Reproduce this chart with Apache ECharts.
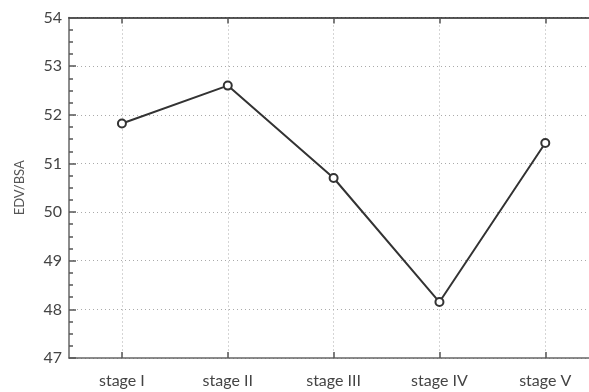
<!DOCTYPE html>
<html>
<head>
<meta charset="utf-8">
<script src="https://cdn.jsdelivr.net/npm/echarts@6/dist/echarts.min.js"></script>
<style>
  html, body { margin: 0; padding: 0; background: #fff; }
  #chart { width: 589px; height: 392px; }
</style>
</head>
<body>
<div id="chart"></div>
<script>
var stages = ["stage I", "stage II", "stage III", "stage IV", "stage V"];
var edvBsa = [51.82, 52.60, 50.70, 48.15, 51.42];
var stagePos = [1, 2, 3, 4, 5];

var fontName = "Lato";
var labelColor = "#444";
var gridLine = { show: true, lineStyle: { color: "#aaa", type: [1, 3], width: 1 } };

// 点データ (x = ステージ番号)
var points = stagePos.map(function(p, i) { return [p, edvBsa[i]]; });

// 右側は画面外で切れているので、見える範囲だけを軸にする
var xMin = 0.5, xMax = 5.413;

var chart = echarts.init(document.getElementById("chart"));
chart.setOption({
    animation: false,
    grid: { left: 69, top: 17.5, right: 0, height: 340.5 },
    xAxis: [{
        type: "value",
        min: xMin,
        max: xMax,
        axisLine: { show: true, lineStyle: { color: "#666", width: 1.5 } },
        axisTick: { show: true, inside: true, length: 6, customValues: stagePos,
                    lineStyle: { color: "#555", width: 1.5 } },
        axisLabel: {
            customValues: stagePos,
            margin: 15,
            fontFamily: fontName,
            fontSize: 16,
            color: labelColor,
            formatter: function(v) { return stages[Math.round(v) - 1] || ""; }
        },
        splitLine: gridLine
    }, {
        type: "value",
        position: "top",
        min: xMin,
        max: xMax,
        axisLine: { show: true, onZero: false, lineStyle: { color: "#222", width: 1.5 } },
        axisTick: { show: true, inside: true, length: 6, customValues: stagePos,
                    lineStyle: { color: "#555", width: 1.5 } },
        axisLabel: { show: false },
        splitLine: { show: false }
    }],
    yAxis: {
        type: "value",
        min: 47,
        max: 54,
        interval: 1,
        name: "EDV/BSA",
        nameLocation: "middle",
        nameGap: 43,
        nameTextStyle: { fontFamily: fontName, fontSize: 13, color: "#555" },
        axisLine: { show: true, lineStyle: { color: "#666", width: 1.5 } },
        axisTick: { show: true, inside: true, length: 7, lineStyle: { color: "#555", width: 1.5 } },
        minorTick: { show: true, splitNumber: 4, length: 4, lineStyle: { color: "#555", width: 1.5 } },
        axisLabel: { margin: 7, fontFamily: fontName, fontSize: 16, color: labelColor },
        splitLine: gridLine
    },
    series: [{
        type: "line",
        xAxisIndex: 0,
        data: points,
        symbol: "circle",
        symbolSize: 8,
        showAllSymbol: true,
        lineStyle: { color: "#333", width: 2 },
        itemStyle: { color: "#fff", borderColor: "#333", borderWidth: 2 }
    }]
});
</script>
</body>
</html>
